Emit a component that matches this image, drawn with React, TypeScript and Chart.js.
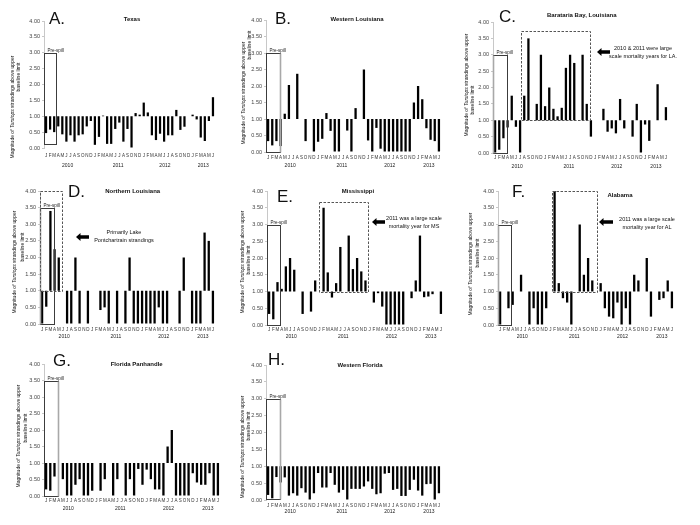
import React, { useEffect, useRef } from "react";
import { Chart, registerables } from "chart.js";

Chart.register(...registerables);

const FONT = '"Liberation Sans", Arial, sans-serif';

const monthLabels = [
  "J","F","M","A","M","J","J","A","S","O","N","D",
  "J","F","M","A","M","J","J","A","S","O","N","D",
  "J","F","M","A","M","J","J","A","S","O","N","D",
  "J","F","M","A","M","J",
];
const yearLabels = ["2010", "2011", "2012", "2013"];
const yearSlots = [5.3, 17.7, 29.2, 38.6];

const texasValues = [0.47, 0.58, 0.5, 0.68, 0.43, 0.2, 0.4, 0.2, 0.4, 0.43, 0.68, 0.85, 0.1, 0.35, 1.02, 0.13, 0.13, 0.6, 0.8, 0.2, 0.6, 0.0, 1.1, 1.05, 1.43, 1.12, 0.4, 0.25, 0.45, 0.2, 0.4, 0.4, 1.2, 0.57, 0.67, null, 1.05, 0.9, 0.33, 0.22, 0.85, 1.6];
const westernLouisianaValues = [0.33, 0.2, 0.33, 0.18, 1.16, 2.03, null, 2.37, null, 0.33, null, 0.0, 0.31, 0.4, 1.18, 0.64, 0.0, 0.0, null, 0.65, 0.0, 1.33, null, 2.5, 0.35, 0.0, 0.73, 0.1, 0.0, 0.0, 0.0, 0.0, 0.0, 0.0, 0.0, 1.5, 2.0, 1.6, 0.72, 0.37, 0.33, 0.0];
const baratariaValues = [0.0, 0.1, 0.45, 0.78, 1.75, 0.8, 0.0, 1.75, 3.5, null, 1.5, 3.0, 1.43, 2.0, 1.35, 1.12, 1.38, 2.6, 3.0, 2.75, null, 3.0, 1.5, 0.5, null, null, 1.35, 0.65, 0.75, 0.6, 1.65, 0.75, null, 0.5, 1.5, 0.0, 0.87, 0.37, null, 2.1, null, 1.4];
const northernLouisianaValues = [0.0, 0.52, 3.4, 2.25, 2.0, null, 0.0, 0.0, 2.0, 0.0, null, 0.0, null, null, 0.42, 0.5, 0.0, null, 0.0, null, 0.0, 2.0, 0.0, 0.0, 0.0, 0.0, 0.0, 0.0, 0.5, 0.0, 0.0, null, null, 0.0, 2.0, null, 0.0, 0.0, 0.0, 2.75, 2.5, 0.0];
const mississippiValues = [0.33, 0.17, 1.28, 1.08, 1.75, 2.0, 1.65, null, 0.33, null, 0.4, 1.33, null, 3.5, 1.57, 0.82, 1.25, 2.33, null, 2.67, 1.67, 2.0, 1.6, 1.33, null, 0.67, 0.95, 0.55, 0.0, 0.0, 0.0, 0.0, 0.0, null, 0.8, 1.33, 2.67, 0.83, 0.85, 0.92, null, 0.33];
const alabamaValues = [0.0, null, 0.5, 0.6, null, 1.5, null, 0.0, 0.5, 0.0, 0.0, 0.5, null, 4.0, 1.25, 0.8, 0.67, 0.0, null, 3.0, 1.5, 2.0, 1.33, null, 1.25, 0.5, 0.25, 0.2, 0.67, 0.0, 0.5, 0.0, 1.5, 1.33, null, 2.0, 0.25, null, 0.75, 0.8, 1.33, 0.5];
const floridaPanhandleValues = [0.2, 0.16, 0.59, null, 0.51, 0.0, 0.0, 0.34, 0.51, 0.0, 0.0, 0.16, null, 0.16, 0.51, null, 0.0, 0.51, null, 0.0, 0.51, 0.0, 0.82, 0.34, 0.8, 0.51, 0.2, 0.2, 0.0, 1.5, 2.0, 0.0, 0.0, 0.0, 0.0, 0.69, 0.41, 0.34, 0.34, 0.69, 0.0, 0.0];
const westernFloridaValues = [0.15, 0.05, 0.68, 0.52, 0.67, 0.13, 0.2, 0.13, 0.35, 0.22, 0.0, 0.2, 0.8, 0.37, 0.37, 0.8, 0.45, 0.22, 0.3, 0.0, 0.33, 0.33, 0.33, 0.4, 0.55, 0.33, 0.17, 0.2, 0.78, 0.8, 0.3, 0.33, 0.12, 0.12, 0.3, 0.6, 0.28, 0.13, 0.47, 0.48, 0.0, 0.2];

type Box = { x0: number; x1: number; y0: number; y1: number; dashed?: boolean; grayEdge?: "left" | "right"; label?: string };
type Pt = { x: number; y: number };
type PanelCfg = {
  id: string;
  letter: string; letterPos: Pt;
  title: string; titlePos: Pt;
  values: (number | null)[];
  L: number; R: number; T: number; B: number;
  xLabY: number; yearY: number;
  boxes: Box[];
  yt1: Pt; yt2: Pt;
  note?: { lines: string[]; x: number; y: number; arrowX0: number; arrowX1: number; arrowY: number };
};

const panels: PanelCfg[] = [
  {
    id: "A", letter: "A.", letterPos: { x: 49, y: 17.5 }, title: "Texas", titlePos: { x: 132, y: 19 },
    values: texasValues, L: 43.5, R: 214.5, T: 20.7, B: 147.7, xLabY: 156, yearY: 165.5,
    boxes: [{ x0: -0.5, x1: 2.4, y0: 0.12, y1: 3.0, label: "Pre-spill" }],
    yt1: { x: 11.7, y: 107 }, yt2: { x: 18.3, y: 77 },
  },
  {
    id: "B", letter: "B.", letterPos: { x: 275, y: 17.5 }, title: "Western Louisiana", titlePos: { x: 357, y: 19 },
    values: westernLouisianaValues, L: 265.6, R: 440.7, T: 20, B: 152, xLabY: 157.5, yearY: 166,
    boxes: [{ x0: -0.5, x1: 2.95, y0: 0, y1: 3.0, label: "Pre-spill", grayEdge: "right" }],
    yt1: { x: 242.7, y: 93 }, yt2: { x: 248.5, y: 45 },
  },
  {
    id: "C", letter: "C.", letterPos: { x: 499, y: 15.5 }, title: "Barataria Bay, Louisiana", titlePos: { x: 581.7, y: 15 },
    values: baratariaValues, L: 492.6, R: 667.7, T: 21.7, B: 153.3, xLabY: 157.5, yearY: 167,
    boxes: [
      { x0: -0.5, x1: 2.9, y0: 0, y1: 3.0, label: "Pre-spill", grayEdge: "left" },
      { x0: 6.3, x1: 22.7, y0: 1, y1: 3.72, dashed: true },
    ],
    yt1: { x: 466, y: 85 }, yt2: { x: 472, y: 100 },
    note: { lines: ["2010 & 2011 were large", "scale mortality years for LA."], x: 643, y: 52, arrowX0: 597, arrowX1: 610, arrowY: 52 },
  },
  {
    id: "D", letter: "D.", letterPos: { x: 68, y: 191 }, title: "Northern Louisiana", titlePos: { x: 132.7, y: 190.7 },
    values: northernLouisianaValues, L: 40.2, R: 214.5, T: 191, B: 324, xLabY: 330, yearY: 337,
    boxes: [
      { x0: -0.5, x1: 2.85, y0: 0, y1: 3.5, label: "Pre-spill", grayEdge: "left" },
      { x0: -0.5, x1: 4.7, y0: 1, y1: 4, dashed: true },
    ],
    yt1: { x: 14, y: 262 }, yt2: { x: 21.7, y: 247 },
    note: { lines: ["Primarily Lake", "Pontchartrain strandings"], x: 124, y: 236, arrowX0: 76, arrowX1: 89, arrowY: 237 },
  },
  {
    id: "E", letter: "E.", letterPos: { x: 277, y: 196 }, title: "Mississippi", titlePos: { x: 358, y: 190.7 },
    values: mississippiValues, L: 267, R: 443, T: 191, B: 325, xLabY: 329.5, yearY: 337,
    boxes: [
      { x0: -0.5, x1: 2.5, y0: 0, y1: 3.0, label: "Pre-spill" },
      { x0: 11.8, x1: 23.7, y0: 1, y1: 3.68, dashed: true },
    ],
    yt1: { x: 241.7, y: 262 }, yt2: { x: 248, y: 260 },
    note: { lines: ["2011 was a large scale", "mortality year for MS"], x: 414, y: 222, arrowX0: 372, arrowX1: 385, arrowY: 222 },
  },
  {
    id: "F", letter: "F.", letterPos: { x: 512, y: 191 }, title: "Alabama", titlePos: { x: 620, y: 195 },
    values: alabamaValues, L: 497.5, R: 673.5, T: 191, B: 325, xLabY: 329.5, yearY: 336.5,
    boxes: [
      { x0: -0.5, x1: 2.7, y0: 0, y1: 3.0, label: "Pre-spill", grayEdge: "left" },
      { x0: 12.45, x1: 23.2, y0: 1, y1: 4, dashed: true },
    ],
    yt1: { x: 470, y: 264 }, yt2: { x: 476.7, y: 253 },
    note: { lines: ["2011 was a large scale", "mortality year for AL"], x: 647, y: 223, arrowX0: 599, arrowX1: 613, arrowY: 222 },
  },
  {
    id: "G", letter: "G.", letterPos: { x: 53, y: 360 }, title: "Florida Panhandle", titlePos: { x: 136.7, y: 364 },
    values: floridaPanhandleValues, L: 43.6, R: 219.6, T: 364.3, B: 496, xLabY: 501, yearY: 509,
    boxes: [{ x0: -0.5, x1: 2.77, y0: 0, y1: 3.5, label: "Pre-spill", grayEdge: "right" }],
    yt1: { x: 18.3, y: 435.7 }, yt2: { x: 25, y: 428 },
  },
  {
    id: "H", letter: "H.", letterPos: { x: 268, y: 359 }, title: "Western Florida", titlePos: { x: 360, y: 365 },
    values: westernFloridaValues, L: 266.2, R: 441.3, T: 365, B: 500, xLabY: 506, yearY: 511.5,
    boxes: [{ x0: -0.5, x1: 2.8, y0: 0.04, y1: 3.0, label: "Pre-spill", grayEdge: "right" }],
    yt1: { x: 241.7, y: 447 }, yt2: { x: 248.3, y: 425.7 },
  },
];

const YW = 40, PT = 8, PR = 8, XH = 30, MONTH_FS = 4.5;

function PanelChart({ p }: { p: PanelCfg }) {
  const ref = useRef<HTMLCanvasElement | null>(null);
  const L = Math.round(p.L), R = Math.round(p.R), T = Math.round(p.T), B = Math.round(p.B);
  const left = L - YW, top = T - PT;
  const width = R - L + YW + PR, height = B - T + PT + XH;

  useEffect(() => {
    const canvas = ref.current;
    if (!canvas) return;
    const labelPad = Math.max(0, p.xLabY - B - MONTH_FS * 0.6);
    const annot = {
      id: "annot" + p.id,
      afterDatasetsDraw(c: any) {
        const ctx = c.ctx as CanvasRenderingContext2D;
        const xs = c.scales.x, ys = c.scales.y;
        ctx.save();
        for (const b of p.boxes) {
          const x0 = Math.round(xs.getPixelForValue(b.x0)) + 0.5;
          const x1 = Math.round(xs.getPixelForValue(b.x1)) + 0.5;
          const y0 = Math.round(ys.getPixelForValue(b.y0)) + 0.5;
          const y1 = Math.round(ys.getPixelForValue(b.y1)) + 0.5;
          ctx.lineWidth = 1;
          ctx.setLineDash(b.dashed ? [2.5, 1.5] : []);
          ctx.strokeStyle = b.dashed ? "#555" : "#3c3c3c";
          ctx.strokeRect(x0, y1, x1 - x0, y0 - y1);
          if (b.grayEdge) {
            const ex = b.grayEdge === "left" ? x0 : x1;
            ctx.setLineDash([]);
            ctx.strokeStyle = "#a8a8a8";
            ctx.lineWidth = 1.6;
            ctx.beginPath();
            ctx.moveTo(ex, y1);
            ctx.lineTo(ex, y0);
            ctx.stroke();
          }
          if (b.label) {
            ctx.setLineDash([]);
            ctx.fillStyle = "#222";
            ctx.font = `4.5px ${FONT}`;
            ctx.textAlign = "left";
            ctx.textBaseline = "alphabetic";
            ctx.fillText(b.label, x0 + 3, y1 - 2);
          }
        }
        ctx.fillStyle = "#222";
        ctx.font = `5px ${FONT}`;
        ctx.textAlign = "center";
        ctx.textBaseline = "middle";
        yearLabels.forEach((yr, i) => {
          ctx.fillText(yr, xs.getPixelForValue(yearSlots[i]), p.yearY - top);
        });
        ctx.restore();
      },
    };
    const chart = new Chart(canvas, {
      type: "bar",
      data: {
        labels: monthLabels,
        datasets: [
          {
            data: p.values.map((v) => (v === null ? null : [1, v])) as any,
            backgroundColor: "#000",
            borderWidth: 0,
            barPercentage: 0.55,
            categoryPercentage: 1,
          },
        ],
      },
      options: {
        responsive: false,
        animation: false,
        devicePixelRatio: 1,
        layout: { padding: { top: PT, right: PR, left: 0, bottom: 0 } },
        plugins: { legend: { display: false }, tooltip: { enabled: false }, title: { display: false } },
        scales: {
          x: {
            type: "category",
            grid: { display: false, drawTicks: false },
            border: { display: false },
            ticks: {
              autoSkip: false, maxRotation: 0, minRotation: 0, padding: labelPad,
              color: "#333", font: { size: MONTH_FS, family: FONT },
            },
            afterFit: (s: any) => { s.height = XH; },
          },
          y: {
            min: 0, max: 4,
            grid: { drawOnChartArea: false, drawTicks: true, tickLength: 2, color: "#c8c8c8" },
            border: { display: true, color: "#c8c8c8" },
            ticks: {
              stepSize: 0.5, padding: 2, color: "#444",
              font: { size: 5.5, family: FONT },
              callback: (v: any) => Number(v).toFixed(2),
            },
            afterFit: (s: any) => { s.width = YW; },
          },
        },
      } as any,
      plugins: [annot],
    });
    return () => chart.destroy();
  }, []);

  return (
    <canvas
      ref={ref}
      width={width}
      height={height}
      style={{ position: "absolute", left, top, width, height }}
    />
  );
}

function Txt({ x, y, size, bold, rotate, children, align }: any) {
  return (
    <div
      style={{
        position: "absolute", left: x, top: y, whiteSpace: "nowrap",
        fontSize: size, fontWeight: bold ? "bold" : "normal", lineHeight: 1,
        color: "#111", textAlign: align || "center",
        transform: `translate(-50%, -50%)${rotate ? ` rotate(${rotate}deg)` : ""}`,
      }}
    >
      {children}
    </div>
  );
}

function Arrow({ x0, x1, y }: { x0: number; x1: number; y: number }) {
  const w = x1 - x0;
  const head = 4.5;
  return (
    <svg style={{ position: "absolute", left: x0, top: y - 4, overflow: "visible" }} width={w} height={8}>
      <polygon points={`0,4 ${head},0 ${head},2.2 ${w},2.2 ${w},5.8 ${head},5.8 ${head},8`} fill="#000" />
    </svg>
  );
}

export default function App() {
  return (
    <div style={{ position: "absolute", left: 0, top: 0, width: 700, height: 525, background: "#fff", fontFamily: FONT, overflow: "hidden" }}>
      {panels.map((p) => (
        <React.Fragment key={p.id}>
          <PanelChart p={p} />
          <div style={{ position: "absolute", left: p.letterPos.x, top: p.letterPos.y, transform: "translateY(-50%)", fontSize: 17, lineHeight: 1, color: "#111" }}>
            {p.letter}
          </div>
          <Txt x={p.titlePos.x} y={p.titlePos.y} size={6} bold>{p.title}</Txt>
          <Txt x={p.yt1.x} y={p.yt1.y} size={5} rotate={-90}>
            Magnitude of <i>Tursiops</i> strandings above upper
          </Txt>
          <Txt x={p.yt2.x} y={p.yt2.y} size={5} rotate={-90}>baseline limit</Txt>
          {p.note && (
            <>
              <Arrow x0={p.note.arrowX0} x1={p.note.arrowX1} y={p.note.arrowY} />
              <div style={{ position: "absolute", left: p.note.x, top: p.note.y, transform: "translate(-50%, -50%)", fontSize: 5.5, lineHeight: "8px", textAlign: "center", whiteSpace: "nowrap", color: "#111" }}>
                {p.note.lines.map((l, i) => (<div key={i}>{l}</div>))}
              </div>
            </>
          )}
        </React.Fragment>
      ))}
    </div>
  );
}
